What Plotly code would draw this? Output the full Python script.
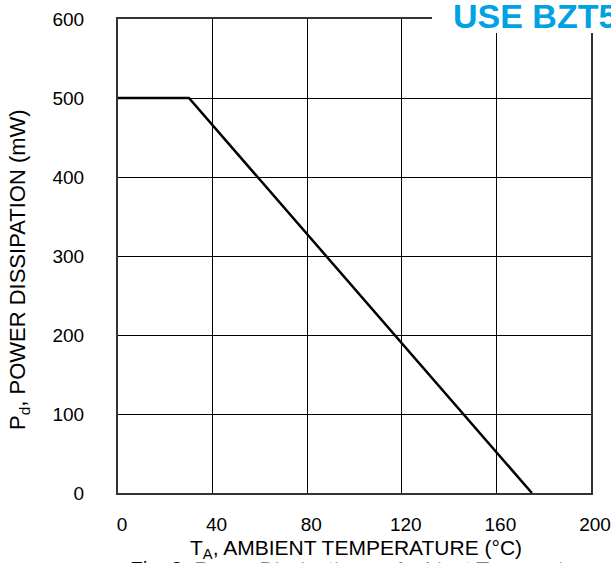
import plotly.graph_objects as go

# Data
temperature_c = [0, 30, 175]
power_mw = [500, 500, 0]
x_ticks = [0, 40, 80, 120, 160, 200]
y_ticks = [0, 100, 200, 300, 400, 500, 600]

W, H = 611, 563
L, R, T, B = 118, 20, 19, 70
pw, ph = W - L - R, H - T - B


def px_x(p):
    return (p - L) / pw


def px_y(p):
    return (H - B - p) / ph


FONT = "Liberation Sans, Arial, sans-serif"

fig = go.Figure()
fig.add_trace(go.Scatter(
    x=temperature_c, y=power_mw, mode="lines",
    line=dict(color="black", width=2.5), showlegend=False, hoverinfo="skip",
))

axis_common = dict(
    showgrid=True, gridcolor="black", gridwidth=1.2, zeroline=False,
    showline=True, linecolor="#333333", linewidth=2, mirror=True,
    ticks="", tickfont=dict(family=FONT, size=19, color="black"),
    ticklabeloverflow="allow",
)

fig.update_xaxes(range=[0, 200], tickvals=x_ticks, ticktext=[str(v) for v in x_ticks],
                 ticklabelstandoff=13, ticklabelshift=4, **axis_common)
fig.update_yaxes(range=[0, 600], tickvals=y_ticks, ticktext=[str(v) for v in y_ticks],
                 ticklabelstandoff=28, **axis_common)

# White box that interrupts the top frame
fig.add_shape(type="rect", xref="paper", yref="paper",
              x0=px_x(432), x1=px_x(W + 5), y0=px_y(33), y1=px_y(-5),
              fillcolor="white", line=dict(width=0), layer="above")

annotations = [
    dict(text="<b>USE BZT5</b>", xref="paper", yref="paper",
         x=px_x(451), y=px_y(16), xanchor="left", yanchor="middle",
         showarrow=False, font=dict(family=FONT, size=34, color="#00A2E2")),
    dict(text="P<sub>d</sub>, POWER DISSIPATION (mW)", xref="paper", yref="paper",
         x=px_x(19), y=px_y(270), xanchor="center", yanchor="middle", textangle=-90,
         showarrow=False, font=dict(family=FONT, size=22, color="black")),
    dict(text="Fig. 2  Power Dissipation vs Ambient Temperature", xref="paper", yref="paper",
         x=px_x(362), y=px_y(555), xanchor="center", yanchor="top",
         showarrow=False, font=dict(family=FONT, size=21, color="black")),
    dict(text="T<sub>A</sub>, AMBIENT TEMPERATURE (°C)", xref="paper", yref="paper",
         x=px_x(356), y=px_y(535), xanchor="center", yanchor="top",
         showarrow=False, bgcolor="white", borderpad=0,
         font=dict(family=FONT, size=21, color="black")),
]

fig.update_layout(
    width=W, height=H,
    margin=dict(l=L, r=R, t=T, b=B, autoexpand=False),
    paper_bgcolor="white", plot_bgcolor="white",
    annotations=annotations,
    font=dict(family=FONT),
)

fig.write_html("out.html", config={"displayModeBar": False},
               post_script="document.body.style.margin='0px';document.body.style.overflow='hidden';")
